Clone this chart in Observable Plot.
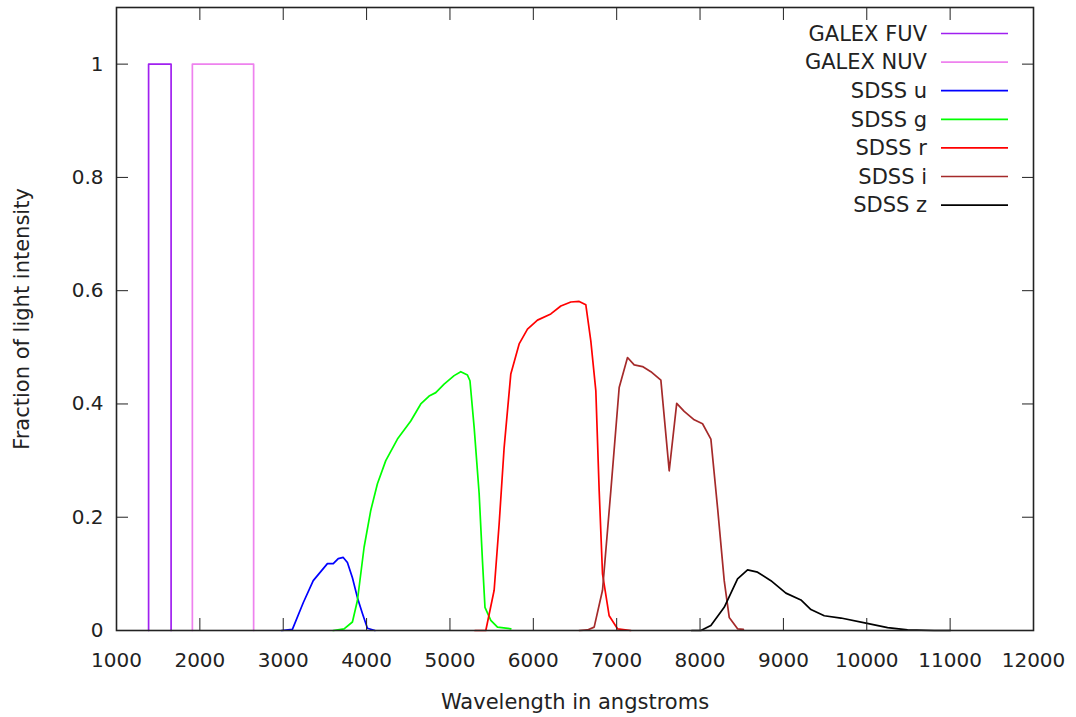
<!DOCTYPE html>
<html>
<head>
<meta charset="utf-8">
<script src="https://cdn.jsdelivr.net/npm/d3@7"></script>
<script src="https://cdn.jsdelivr.net/npm/@observablehq/plot@0.6"></script>
<style>
  html, body { margin: 0; padding: 0; background: #fff; }
  #chart { width: 1076px; height: 717px; }
</style>
</head>
<body>
<div id="chart"></div>
<script>
// ---- tick labels ----
const xTicks = [1000, 2000, 3000, 4000, 5000, 6000, 7000, 8000, 9000, 10000, 11000, 12000];
const yTicks = [0, 0.2, 0.4, 0.6, 0.8, 1];

// ---- series ----
const seriesNames = ["GALEX FUV", "GALEX NUV", "SDSS u", "SDSS g", "SDSS r", "SDSS i", "SDSS z"];
const seriesColors = ["#a020f0", "#ee82ee", "#0000ff", "#00ff00", "#ff0000", "#a52a2a", "#000000"];

const fuvWave = [1385, 1385, 1655, 1655];
const fuvResp = [0, 1, 1, 0];

const nuvWave = [1910, 1910, 2645, 2645];
const nuvResp = [0, 1, 1, 0];

const uWave = [2980, 3110, 3240, 3360, 3530, 3600, 3660, 3720, 3770, 3830, 3890, 3950, 4010, 4100];
const uResp = [0, 0.002, 0.049, 0.088, 0.118, 0.118, 0.127, 0.129, 0.120, 0.093, 0.058, 0.030, 0.004, 0];

const gWave = [3600, 3730, 3830, 3890, 3970, 4050, 4130, 4230, 4370, 4530, 4650, 4750, 4830, 4930, 5050, 5130, 5210, 5240, 5290, 5350, 5390, 5420, 5490, 5570, 5730];
const gResp = [0, 0.003, 0.015, 0.053, 0.147, 0.212, 0.259, 0.300, 0.338, 0.370, 0.400, 0.414, 0.420, 0.435, 0.450, 0.457, 0.451, 0.441, 0.359, 0.242, 0.123, 0.041, 0.018, 0.006, 0.003];

const rWave = [5300, 5430, 5530, 5590, 5650, 5730, 5830, 5930, 6050, 6210, 6330, 6450, 6550, 6630, 6690, 6750, 6790, 6830, 6910, 7010, 7170];
const rResp = [0, 0, 0.071, 0.188, 0.323, 0.453, 0.506, 0.532, 0.548, 0.559, 0.573, 0.580, 0.581, 0.575, 0.511, 0.423, 0.247, 0.100, 0.026, 0.003, 0];

const iWave = [6550, 6650, 6730, 6830, 6930, 7030, 7130, 7210, 7310, 7410, 7530, 7630, 7720, 7810, 7930, 8030, 8130, 8210, 8290, 8350, 8450, 8520];
const iResp = [0, 0.001, 0.006, 0.071, 0.247, 0.429, 0.482, 0.469, 0.466, 0.457, 0.442, 0.282, 0.401, 0.387, 0.372, 0.365, 0.338, 0.217, 0.088, 0.023, 0.003, 0.002];

const zWave = [7900, 8010, 8130, 8290, 8450, 8570, 8690, 8850, 9030, 9210, 9330, 9490, 9690, 9990, 10250, 10490, 10810, 11000];
const zResp = [0, 0, 0.009, 0.041, 0.091, 0.107, 0.103, 0.088, 0.066, 0.054, 0.037, 0.026, 0.022, 0.013, 0.005, 0.001, 0, 0];

const xLabel = "Wavelength in angstroms";
const yLabel = "Fraction of light intensity";

// ---- build table ----
const seriesData = [
  [fuvWave, fuvResp], [nuvWave, nuvResp], [uWave, uResp], [gWave, gResp],
  [rWave, rResp], [iWave, iResp], [zWave, zResp]
];
const rows = [];
seriesData.forEach(([w, r], k) => {
  w.forEach((x, j) => rows.push({name: seriesNames[k], wave: x, resp: r[j]}));
});

const FONT = "'DejaVu Sans', Verdana, sans-serif";
const TEXT = "#222";
const FS = 20;
const FS_BIG = 21;

const plot = Plot.plot({
  width: 1076,
  height: 717,
  marginLeft: 116,
  marginRight: 43,
  marginTop: 7,
  marginBottom: 87,
  style: {fontFamily: FONT, fontSize: FS + "px", color: TEXT, background: "#fff"},
  x: {domain: [1000, 12000]},
  y: {domain: [0, 1.1]},
  color: {domain: seriesNames, range: seriesColors},
  marks: [
    Plot.line(rows, {x: "wave", y: "resp", z: "name", stroke: "name", strokeWidth: 1.7}),
    Plot.frame({stroke: "#222", strokeWidth: 1.6}),
    Plot.axisX(xTicks, {anchor: "bottom", tickSize: -12, tickPadding: 34, tickFormat: d => String(d), label: null, stroke: "#222"}),
    Plot.axisX(xTicks, {anchor: "top", tickSize: -12, tickFormat: () => "", label: null, stroke: "#222"}),
    Plot.axisY(yTicks, {anchor: "left", tickSize: -12, tickPadding: 25, tickFormat: d => String(d), label: null, stroke: "#222"}),
    Plot.axisY(yTicks, {anchor: "right", tickSize: -12, tickFormat: () => "", label: null, stroke: "#222"}),
    Plot.text([xLabel], {text: d => d, frameAnchor: "bottom", lineAnchor: "middle", dy: 72, fill: TEXT, fontSize: FS_BIG}),
    Plot.text([yLabel], {text: d => d, frameAnchor: "left", textAnchor: "middle", lineAnchor: "middle", dx: -94, rotate: -90, fill: TEXT, fontSize: FS_BIG})
  ]
});

// ---- legend (inside the plot, top right) ----
const svg = d3.select(plot);
const rightEdge = 1076 - 43;
const leg = svg.append("g").attr("font-family", FONT).attr("font-size", FS_BIG);
seriesNames.forEach((name, i) => {
  const cy = 33.5 + i * 28.6;
  leg.append("text")
    .attr("x", rightEdge - 106)
    .attr("y", cy)
    .attr("dy", "0.35em")
    .attr("text-anchor", "end")
    .attr("fill", TEXT)
    .text(name);
  leg.append("line")
    .attr("x1", rightEdge - 92).attr("x2", rightEdge - 25)
    .attr("y1", cy).attr("y2", cy)
    .attr("stroke", seriesColors[i])
    .attr("stroke-width", 1.7);
});

document.getElementById("chart").appendChild(plot);
</script>
</body>
</html>
